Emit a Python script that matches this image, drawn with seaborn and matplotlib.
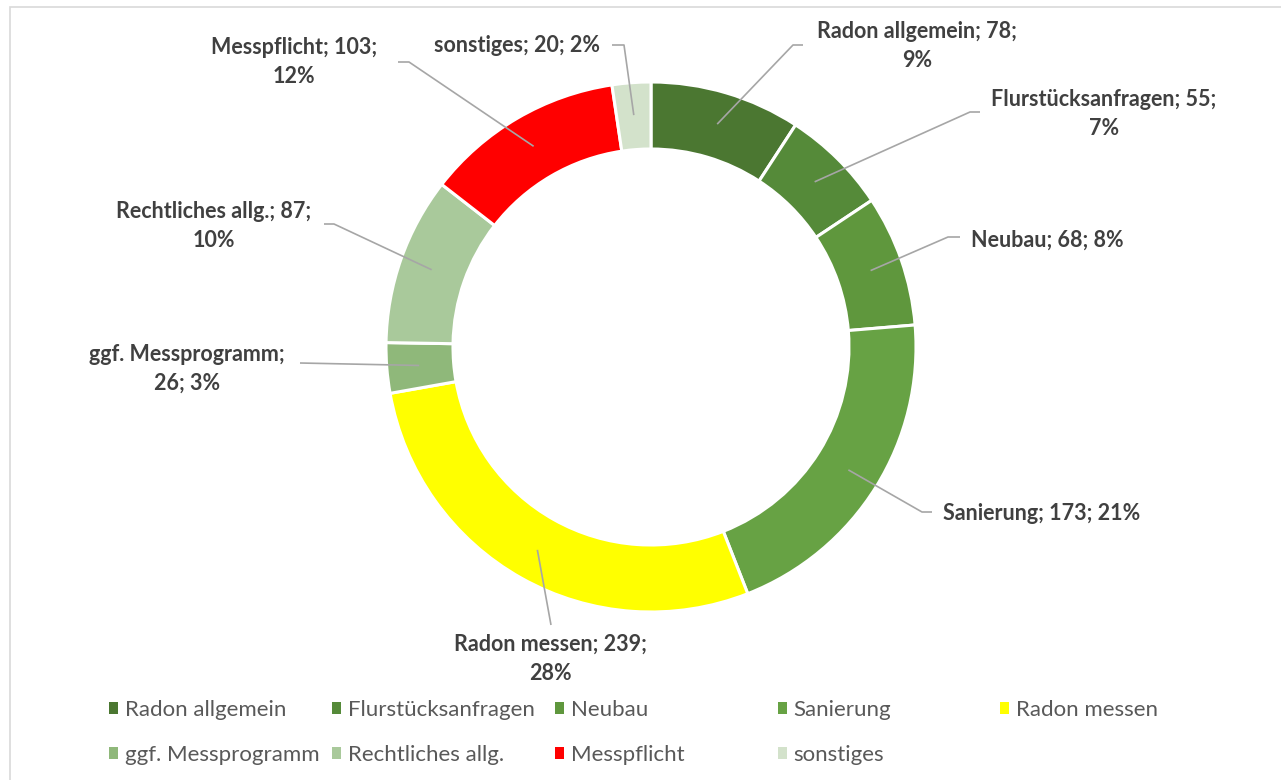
import matplotlib.pyplot as plt
import seaborn as sns
import numpy as np
from matplotlib.patches import Patch, Rectangle

categories = ["Radon allgemein", "Flurstücksanfragen", "Neubau", "Sanierung",
              "Radon messen", "ggf. Messprogramm", "Rechtliches allg.",
              "Messpflicht", "sonstiges"]
counts = [78, 55, 68, 173, 239, 26, 87, 103, 20]
percents = ["9%", "7%", "8%", "21%", "28%", "3%", "10%", "12%", "2%"]
colors = ["#4B7731", "#558A39", "#5F973D", "#67A244", "#FFFF00",
          "#8FB87A", "#A9C99B", "#FF0000", "#D3E2CB"]

# where the label line breaks: 0 none, 1 after name, 2 after count
breaks = [2, 2, 0, 0, 2, 1, 2, 2, 0]

W, H = 1281, 780
cx, cy, R, ring = 651, 347, 265, 67

# label centres and leader elbows (pixels, y down)
label_xy = [(917, 46), (1104, 114), (1047, 240), (1042, 514), (550, 659),
            (187, 369), (214, 226), (294, 62), (517, 46)]
elbows = [[(793, 45), (803, 45)], [(970, 112), (980, 112)],
          [(948, 237), (960, 237)], [(922, 512), (932, 512)],
          [(551, 625)], [(300, 363)], [(334, 224), (324, 224)],
          [(409, 62), (398, 62)], [(624, 45), (612, 45)]]

sns.set_style("white")
plt.rcParams["font.family"] = ["Lato", "DejaVu Sans"]

fig = plt.figure(figsize=(W / 100, H / 100), dpi=100)
ax = fig.add_axes([0, 0, 1, 1])

wedges, _ = ax.pie(counts, colors=colors, startangle=90, counterclock=False,
                   radius=R, center=(cx, H - cy),
                   wedgeprops=dict(width=ring, edgecolor="white", linewidth=2.2))
ax.set_xlim(0, W)
ax.set_ylim(0, H)
ax.set_aspect("equal")
ax.axis("off")

# chart frame (only top and left visible)
fig.patches.append(Rectangle((10 / W, -0.1), 1.2, (H - 7) / H + 0.1,
                             transform=fig.transFigure, fill=False,
                             edgecolor="#D9D9D9", linewidth=1.2))

total = sum(counts)
cum = 0
r_mid = R - ring / 2 + 1
for i, (cat, n, pct) in enumerate(zip(categories, counts, percents)):
    frac = (cum + n / 2) / total
    cum += n
    ang = np.deg2rad(90 - 360 * frac)
    sx, sy = cx + r_mid * np.cos(ang), H - (cy - r_mid * np.sin(ang))
    pts = [(sx, sy)] + [(x, H - y) for x, y in elbows[i]]
    xs, ys = zip(*pts)
    ax.plot(xs, ys, color="#A6A6A6", lw=1.2, solid_capstyle="butt")
    if breaks[i] == 2:
        txt = f"{cat}; {n};\n{pct}"
    elif breaks[i] == 1:
        txt = f"{cat};\n{n}; {pct}"
    else:
        txt = f"{cat}; {n}; {pct}"
    lx, ly = label_xy[i]
    ax.text(lx, H - ly, txt, ha="center", va="center", fontsize=15.5,
            fontweight="bold", color="#404040", linespacing=1.45)

# legend laid out in equal-width columns like the original
col_x = [109, 332, 555, 778, 1000]
for c in range(5):
    idx = [c, c + 5] if c + 5 < len(categories) else [c]
    handles = [Patch(facecolor=colors[k], edgecolor="none") for k in idx]
    fig.legend(handles, [categories[k] for k in idx], loc="upper left",
               bbox_to_anchor=(col_x[c] / W, (H - 700) / H), frameon=False,
               fontsize=16, handlelength=0.4, handleheight=0.4,
               handletextpad=0.3, borderpad=0, borderaxespad=0,
               labelspacing=1.12, labelcolor="#595959")

fig.savefig("out.png", dpi=100)
